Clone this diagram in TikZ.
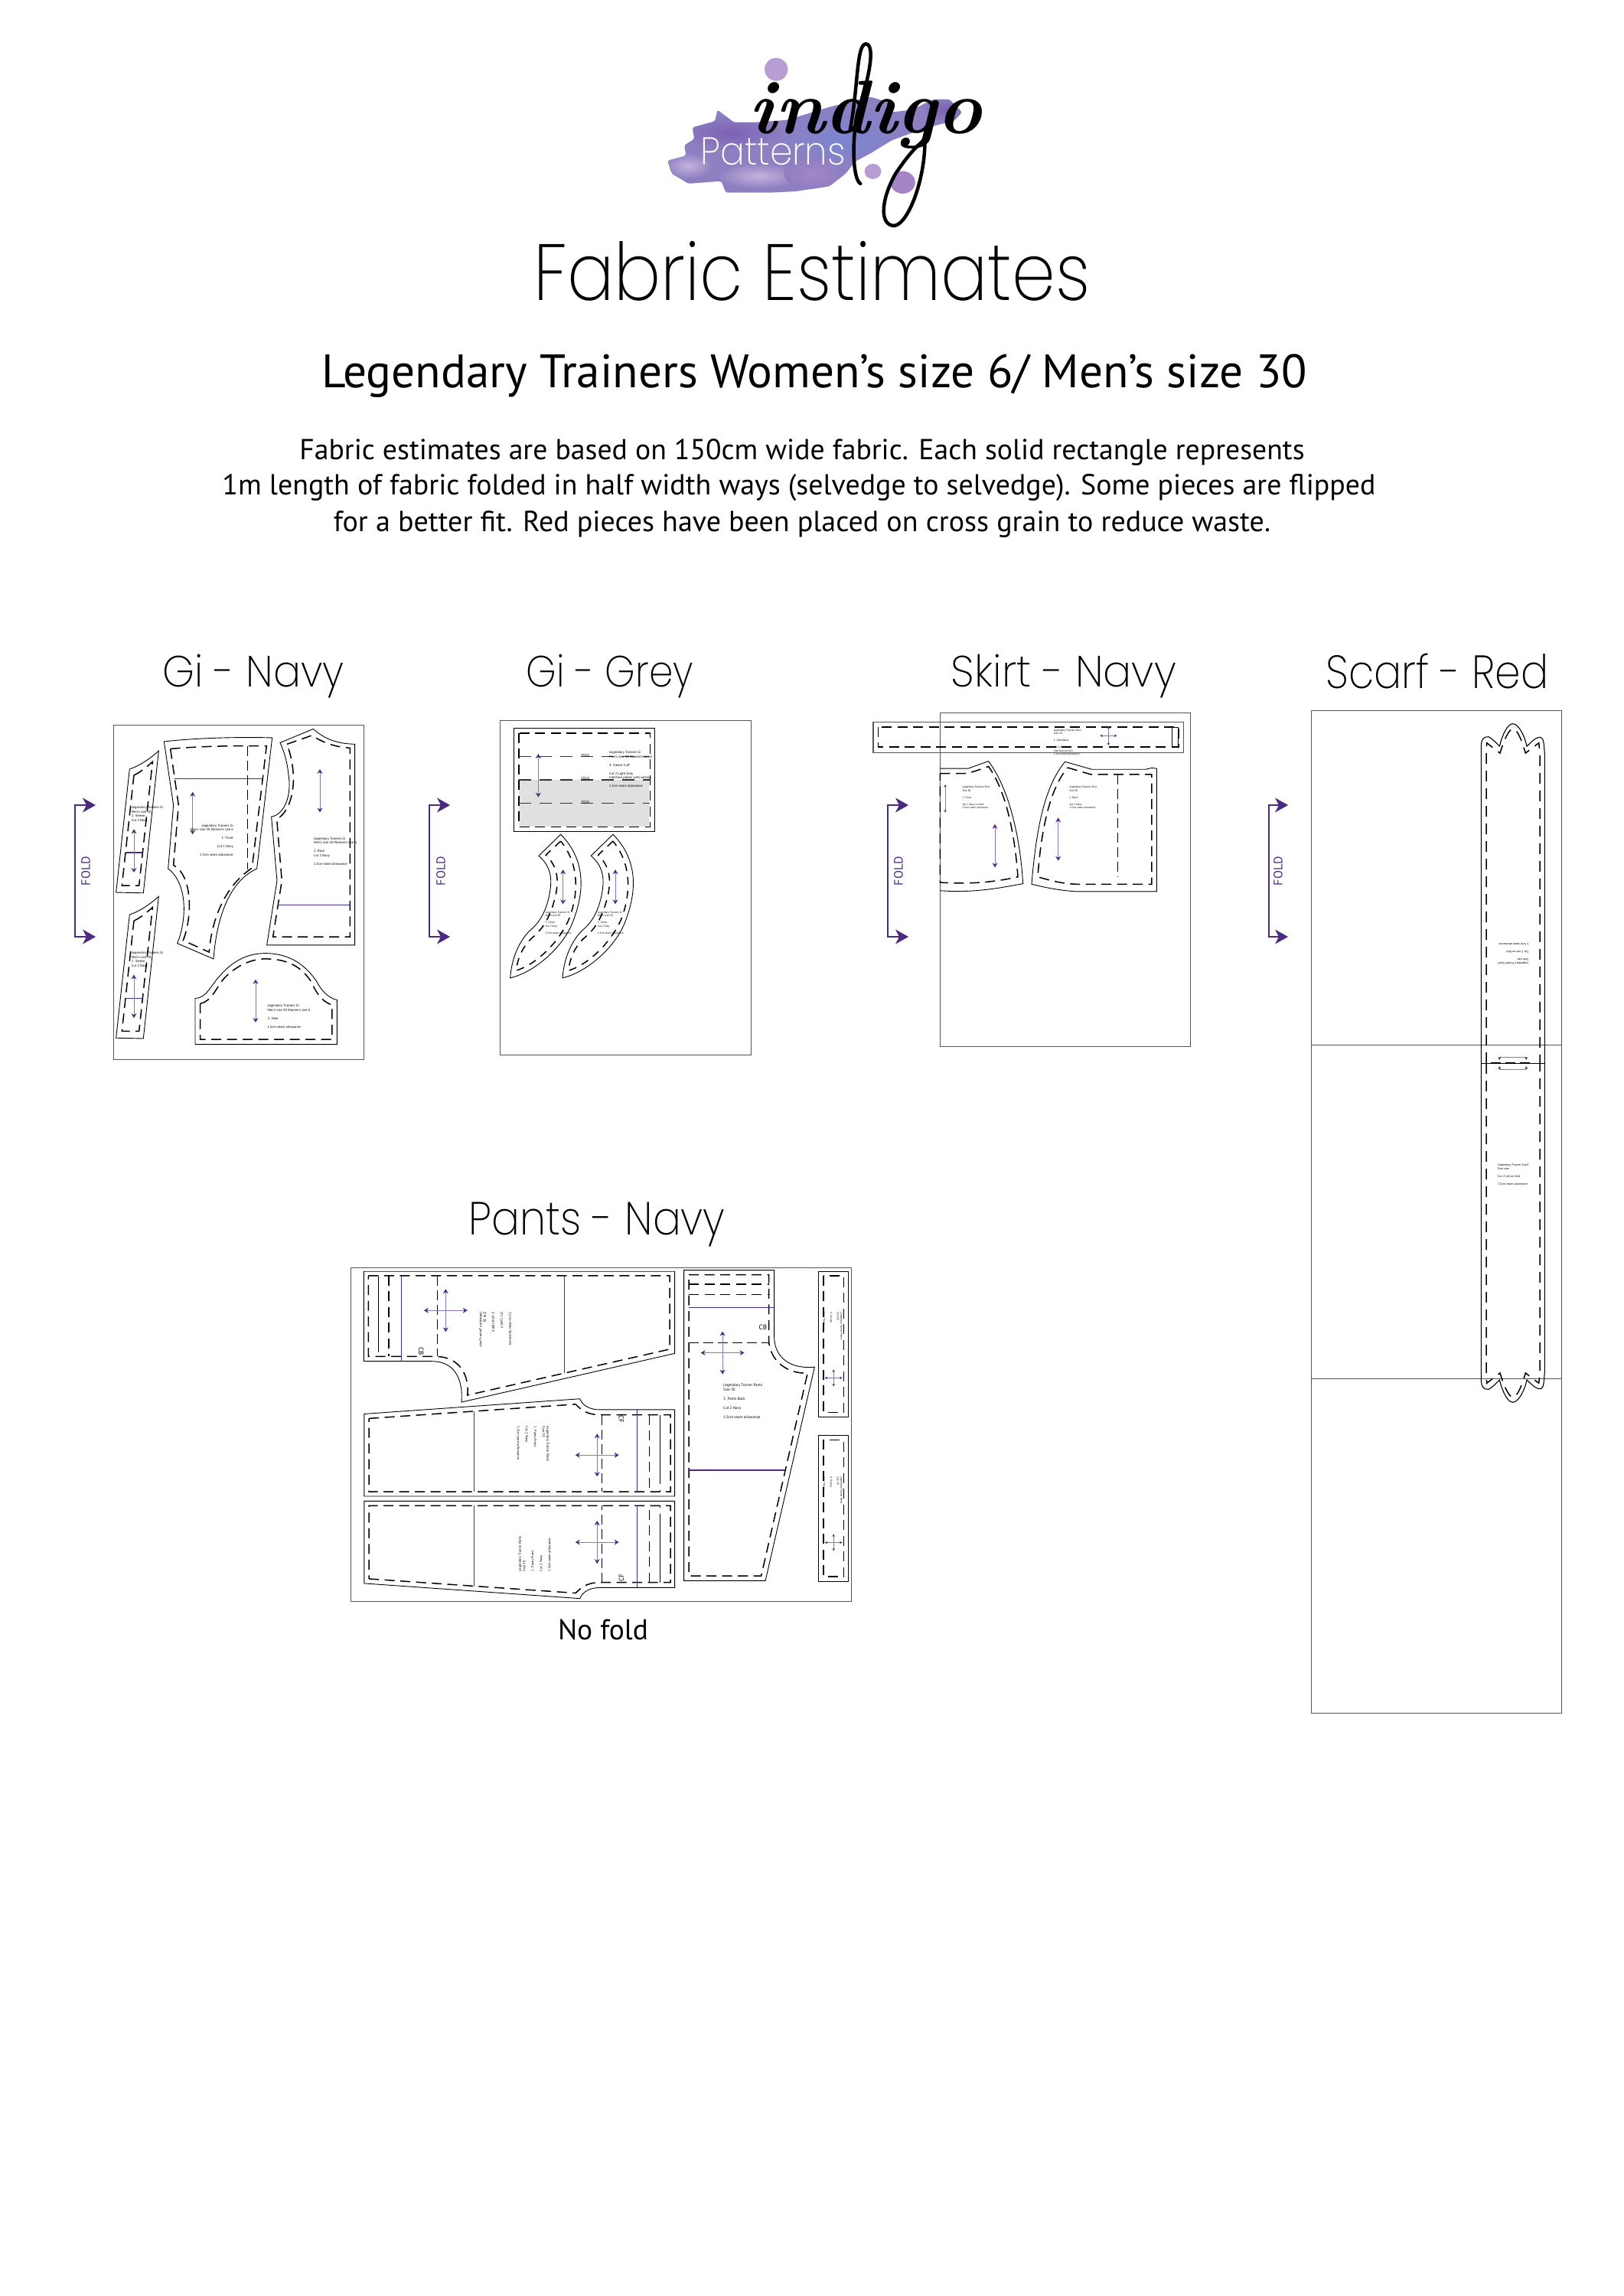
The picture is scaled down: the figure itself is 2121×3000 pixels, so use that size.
\documentclass[tikz,border=0pt]{standalone}
\usepackage{graphicx}
\usepackage{fontspec}
\usetikzlibrary{arrows.meta}
\newfontfamily\bodyfont{PT Sans}
\newfontfamily\thinfont{Poppins ExtraLight}
\definecolor{sheetgrey}{HTML}{555555}
\definecolor{foldpurple}{HTML}{4B2A82}
\definecolor{grainpurple}{HTML}{8A78B6}
\definecolor{blobbase}{HTML}{8D7FC2}
\definecolor{blobblue}{HTML}{7A86D0}
\definecolor{blobviolet}{HTML}{7C62B2}
\definecolor{bloblight}{HTML}{C6B2DC}
\definecolor{blobmauve}{HTML}{A585C6}
\tikzset{
	sheet/.style={draw=sheetgrey,line width=1pt},
	outline/.style={draw=black,line width=.9pt},
	stitch/.style={draw=black,line width=1.5pt,dash pattern=on 13pt off 7.5pt},
	thinstitch/.style={draw=black,line width=.7pt,dash pattern=on 13pt off 6pt},
	hemline/.style={draw=foldpurple,line width=1.1pt},
	grain/.style={draw=grainpurple,line width=.8pt,{Stealth[length=6pt,width=7pt,color=foldpurple]}-{Stealth[length=6pt,width=7pt,color=foldpurple]}},
	grainthin/.style={draw=grainpurple,line width=.5pt,{Stealth[length=3.5pt,width=3.5pt,color=foldpurple]}-{Stealth[length=3.5pt,width=3.5pt,color=foldpurple]}},
	foldarrow/.style={draw=foldpurple,line width=1.1pt,{Stealth[inset=5pt,length=17pt,width=19pt]}-{Stealth[inset=5pt,length=17pt,width=19pt]}},
	foldlabel/.style={text=foldpurple,font=\bodyfont,rotate=90,inner sep=0pt},
	heading/.style={font=\thinfont,inner sep=0pt},
	bodytext/.style={font=\bodyfont,inner sep=0pt},
	tinytext/.style={font=\bodyfont\fontsize{4.5}{5.5}\selectfont,align=left,inner sep=0pt,anchor=north west},
	giview/.style={shift={(80,830)},x=.3333pt,y=-.3827pt},
	greyview/.style={shift={(540,830)},x=.3333pt,y=-.3827pt},
	skirtview/.style={shift={(1130,830)},x=.3333pt,y=-.3827pt},
	pantsview/.style={shift={(440,1560)},x=.4591pt,y=-.3954pt},
	logoview/.style={shift={(650,30)},x=.542pt,y=-.3333pt},
}
\newcommand{\fitted}[3]{\resizebox*{#1pt}{#2pt}{#3}}
\newcommand{\fitwide}[2]{\resizebox{#1pt}{!}{#2}}
\newcommand{\blobpath}{(410,540) -- (455,520) -- (450,480) -- (475,455) -- (470,410) -- (525,385) -- (530,340) -- (570,390) -- (620,390) -- (700,380) -- (800,330) -- (900,290) -- (940,310) -- (950,350) -- (1000,340) -- (1050,300) -- (1090,300) -- (1120,350) -- (1100,385) -- (1060,400) -- (1000,430) -- (950,460) -- (900,510) -- (860,545) -- (840,590) -- (800,640) -- (720,660) -- (660,665) -- (550,665) -- (540,620) -- (460,630) -- (420,590) -- cycle}
\newcommand{\crossmark}[5][grain]{\draw[#1] (#2-#4,#3) -- (#2+#4,#3); \draw[#1] (#2,#3-#5) -- (#2,#3+#5);}
\begin{document}
\begin{tikzpicture}[x=1pt,y=-1pt]
\useasboundingbox (0,0) rectangle (2121,3000);

% logo
\begin{scope}[logoview]
	\begin{scope}
		\clip[rounded corners=3pt] \blobpath;
		\fill[blobbase] (400,280) rectangle (1130,680);
		\shade[inner color=blobblue,outer color=blobbase] (840,450) ellipse (170 and 130);
		\shade[inner color=blobviolet,outer color=blobbase] (560,430) ellipse (130 and 70);
		\shade[inner color=blobviolet,outer color=blobbase] (1080,340) ellipse (60 and 50);
		\shade[inner color=bloblight,outer color=blobbase] (630,600) ellipse (100 and 50);
		\shade[inner color=bloblight,outer color=blobbase] (460,560) ellipse (60 and 50);
		\shade[inner color=blobmauve,outer color=blobbase] (760,590) ellipse (70 and 60);
	\end{scope}
	\fill[blobmauve!80!white] (672,182) ellipse (28 and 45);
	\fill[blobmauve!80!white] (905,582) ellipse (20 and 30);
	\fill[blobmauve] (977,625) ellipse (30 and 44);
	\node[heading,text=white,anchor=north west] (patterns) at (490,450) {\fitted{189}{36}{Patterns}};
	\node[inner sep=0pt,anchor=base west] (indigo) at (605,435) {\fitwide{305}{\fontsize{110}{110}\selectfont\bfseries\itshape indigo}};
	\draw[line width=4.5pt,line cap=round] (850,420) .. controls (870,250) and (865,85) .. (888,82) .. controls (915,85) and (890,250) .. (868,350) .. controls (855,450) and (855,610) .. (875,630);
	\draw[line width=4.5pt,line cap=round] (1030,440) .. controls (1035,600) and (990,795) .. (955,795) .. controls (920,790) and (925,690) .. (960,590) .. controls (985,530) and (1005,490) .. (1028,460);
\end{scope}

% title and intro
\node[heading] (title) at (1061,354) {\fitted{727}{78}{Fabric Estimates}};
\node[bodytext] (subtitle) at (1064,491) {\fitwide{1287}{Legendary Trainers Women’s size 6/ Men’s size 30}};
\node[bodytext] (introa) at (1048,591) {\fitwide{1313}{Fabric estimates are based on 150cm wide fabric. Each solid rectangle represents}};
\node[bodytext] (introb) at (1044,637) {\fitwide{1507}{1m length of fabric folded in half width ways (selvedge to selvedge). Some pieces are flipped}};
\node[bodytext] (introc) at (1048,685) {\fitwide{1224}{for a better fit. Red pieces have been placed on cross grain to reduce waste.}};

% panel headings
\node[heading] (ginavy) at (331,883.5) {\fitted{237}{57}{Gi - Navy}};
\node[heading] (gigrey) at (797,883.5) {\fitted{218}{57}{Gi - Grey}};
\node[heading] (skirtnavy) at (1390,883.5) {\fitted{294}{57}{Skirt - Navy}};
\node[heading] (scarfred) at (1878,877) {\fitted{291}{46}{Scarf - Red}};
\node[heading] (pantsnavy) at (780,1600) {\fitted{335}{58}{Pants - Navy}};
\node[bodytext] (nofold) at (788,2129) {\fitwide{118}{No fold}};

% fold arrows
\foreach \foldx/\tipx/\labelx/\foldname in {98/125/112/a,561/588/576/b,1160/1187/1174/c,1658/1683/1670/d}{
	\draw[foldarrow] (\tipx,1052) -- (\foldx,1052) -- (\foldx,1224) -- (\tipx,1224);
	\node[foldlabel] (fold\foldname) at (\labelx,1138) {\fitwide{38}{FOLD}};
}

% gi navy
\begin{scope}[giview]
	\draw[sheet] (205,308) rectangle (1187,1448);
	\foreach \dy in {0,497}{
		\begin{scope}[yshift={\dy*-.3827pt}]
			\draw[outline] (268,457) .. controls (310,445) and (350,420) .. (382,395) -- (322,880) -- (215,878) -- cycle;
			\draw[stitch] (285,478) .. controls (310,468) and (335,450) .. (358,432) -- (305,855) -- (238,855) -- cycle;
			\draw[hemline] (253,742) -- (318,742);
			\draw[grain] (285,662) -- (285,810);
			\node[tinytext] (bandtext\dy) at (275,583) {Legendary Trainers Gi\\Men's size 30\\2. Sleeve\\Cut 2 Navy};
		\end{scope}
	}
	\draw[outline] (403,363) .. controls (540,350) and (700,347) .. (827,350) -- (767,797) .. controls (660,840) and (610,960) .. (597,1105) -- (455,1052) .. controls (490,980) and (500,850) .. (419,797) -- (440,580) -- cycle;
	\draw[stitch] (428,388) .. controls (550,378) and (700,377) .. (805,378) -- (748,795) .. controls (650,850) and (590,960) .. (580,1082) -- (478,1042) .. controls (515,960) and (515,820) .. (440,785) -- (460,580) -- cycle;
	\draw[thinstitch] (730,378) -- (730,800);
	\draw[hemline] (445,491) -- (787,491);
	\draw[grain] (515,535) -- (515,680);
	\node[tinytext,align=right,anchor=north east] (fronttext) at (675,645) {Legendary Trainers Gi\\Men's size 30 Women's size 6\\\\1. Front\\\\Cut 1 Navy\\\\1.5cm seam allowance};
	\draw[outline] (858,367) -- (988,320) .. controls (1040,360) and (1090,370) .. (1151,372) -- (1151,1058) -- (806,1058) -- (846,838) -- (824,620) .. controls (880,610) and (905,540) .. (890,470) .. controls (885,425) and (870,390) .. (858,367) -- cycle;
	\draw[stitch] (885,372) -- (983,342) .. controls (1040,375) and (1090,382) .. (1132,385) -- (1132,1030) -- (830,1030) -- (865,838) -- (845,628) .. controls (905,600) and (935,490) .. (885,372) -- cycle;
	\draw[hemline] (850,921) -- (1132,921);
	\draw[grain] (1014,457) -- (1014,605);
	\node[tinytext] (backtext) at (990,690) {Legendary Trainers Gi\\Men's size 30 Women's size 6\\\\2. Back\\Cut 1 Navy\\\\1.5cm seam allowance};
	\draw[outline] (525,1240) .. controls (570,1240) and (590,1190) .. (625,1160) .. controls (680,1105) and (740,1086) .. (800,1086) .. controls (900,1086) and (960,1130) .. (1000,1180) .. controls (1020,1215) and (1050,1240) .. (1081,1245) -- (1081,1397) -- (525,1397) -- cycle;
	\draw[stitch] (545,1258) .. controls (590,1250) and (610,1200) .. (640,1170) .. controls (690,1125) and (750,1105) .. (800,1105) .. controls (900,1105) and (950,1140) .. (985,1190) .. controls (1000,1225) and (1030,1255) .. (1062,1262) -- (1062,1380) -- (545,1380) -- cycle;
	\draw[grain] (762,1175) -- (762,1322);
	\node[tinytext] (yoketext) at (808,1260) {Legendary Trainers Gi\\Men's size 30 Women's size 6\\\\3. Yoke\\\\1.5cm seam allowance};
\end{scope}

% gi grey
\begin{scope}[greyview]
	\draw[sheet] (340,292) rectangle (1324,1432);
	\fill[black!12] (414,494) rectangle (925,652);
	\draw[outline] (393,318) rectangle (946,670);
	\draw[stitch] (414,334) rectangle (928,654);
	\foreach \foldy in {414,494,574}{
		\draw[stitch,black!80,line width=1.3pt,dash pattern=on 16pt off 11pt] (414,\foldy) -- (928,\foldy);
		\node[tinytext,anchor=south] (cufffold\foldy) at (675,\foldy) {FOLD};
	}
	\draw[grain] (490,405) -- (490,553);
	\node[tinytext] (cufftext) at (768,395) {Legendary Trainers Gi\\Men's size 30 Women's size 6\\\\4. Sleeve Cuff\\\\Cut 2 Light Grey\\Interface pieces with section\\\\1.5cm seam allowance};
	\foreach \dx in {0,205}{
		\begin{scope}[xshift={\dx*.3333pt}]
			\draw[outline] (578,680) -- (492,753) .. controls (540,790) and (545,830) .. (535,880) .. controls (520,950) and (490,985) .. (455,1010) .. controls (410,1050) and (385,1110) .. (380,1170) .. controls (480,1150) and (590,1060) .. (625,980) .. controls (670,880) and (680,770) .. (578,680) -- cycle;
			\draw[stitch,line width=1.5pt,dash pattern=on 10pt off 8pt] (578,703) -- (520,750) .. controls (565,790) and (570,830) .. (560,880) .. controls (540,960) and (510,1000) .. (470,1030) .. controls (430,1060) and (410,1100) .. (403,1145) .. controls (480,1125) and (570,1050) .. (610,970) .. controls (650,880) and (650,780) .. (578,703) -- cycle;
			\draw[grain] (587,800) -- (587,918);
			\node[tinytext,font=\bodyfont\fontsize{3.5}{4.5}\selectfont] (collartext\dx) at (517,942) {Legendary Trainers Gi\\Men's size 30\\\\5. Collar\\Cut 2 Grey\\\\1.5cm seam allowance};
		\end{scope}
	}
\end{scope}

% skirt navy
\begin{scope}[skirtview]
	\draw[sheet] (295,265) rectangle (1277,1405);
	\draw[outline,draw=sheetgrey,line width=1.1pt] (33,296) rectangle (1250,400);
	\draw[stitch] (52,313) rectangle (1230,382);
	\draw[outline] (1203,314) rectangle (1229,382);
	\crossmark[grainthin]{955}{343}{33}{33}
	\node[tinytext,font=\bodyfont\fontsize{3.5}{4.5}\selectfont] (waisttext) at (740,320) {Legendary Trainers Skirt\\Size 30\\\\1. Waistband\\\\Cut 1 Navy\\Interface section\\1.5cm seam allowance};
	\draw[outline] (295,455) -- (405,455) .. controls (430,447) and (460,438) .. (485,430) .. controls (570,530) and (610,700) .. (620,848) .. controls (520,865) and (420,880) .. (295,872);
	\draw[stitch] (295,472) -- (400,472) .. controls (430,465) and (460,456) .. (485,448) .. controls (560,540) and (590,700) .. (600,825) .. controls (500,845) and (400,850) .. (295,844) -- cycle;
	\draw[outline] (785,432) -- (890,458) -- (1100,458) -- (1125,453) -- (1144,455) -- (1144,875) -- (830,875) .. controls (770,872) and (710,862) .. (654,850) .. controls (670,680) and (700,520) .. (785,432) -- cycle;
	\draw[stitch] (795,452) -- (885,475) -- (1125,475) -- (1125,850) -- (840,850) .. controls (780,850) and (730,838) .. (678,825) .. controls (690,680) and (720,530) .. (795,452) -- cycle;
	\draw[thinstitch,line width=1pt] (992,475) -- (992,825);
	\draw[grainthin] (315,510) -- (315,605);
	\draw[grain] (510,645) -- (510,793);
	\draw[grain] (758,623) -- (758,770);
	\node[tinytext,font=\bodyfont\fontsize{3.5}{4.5}\selectfont] (skirtfronttext) at (382,515) {Legendary Trainers Skirt\\Size 30\\\\1. Front\\\\Cut 1 Navy on fold\\1.5cm seam allowance};
	\node[tinytext,font=\bodyfont\fontsize{3.5}{4.5}\selectfont] (skirtbacktext) at (802,515) {Legendary Trainers Skirt\\Size 30\\\\2. Back\\\\Cut 2 Navy\\1.5cm seam allowance};
\end{scope}

% scarf red
\draw[sheet] (1713,928) rectangle (2040,2238);
\draw[sheet] (1713,1365) -- (2040,1365);
\draw[sheet] (1713,1801) -- (2040,1801);
\foreach \ys in {1,-1}{
	\begin{scope}[shift={(1900,1389)},x=.3333pt,y=\ys*.3333pt]
		\draw[outline,line width=1.1pt] (106,0) -- (106,1237) .. controls (106,1270) and (115,1280) .. (135,1279) .. controls (150,1272) and (170,1250) .. (178,1242) .. controls (190,1290) and (210,1330) .. (230,1330) .. controls (250,1330) and (275,1290) .. (285,1242) .. controls (300,1255) and (320,1280) .. (340,1277) .. controls (352,1272) and (352,1250) .. (355,1210) -- (355,0);
		\draw[stitch,dash pattern=on 14pt off 9pt] (126,0) -- (126,1220) -- (128,1255) -- (180,1215) .. controls (195,1265) and (215,1310) .. (230,1310) .. controls (248,1310) and (265,1265) .. (280,1215) -- (332,1255) -- (336,1220) -- (336,0);
		\draw[grainthin,{Stealth[length=4pt,width=4pt,color=foldpurple]}-] (178,12) -- (178,24) -- (283,24);
		\draw[grainthin,{Stealth[length=4pt,width=4pt,color=foldpurple]}-] (283,12) -- (283,24);
	\end{scope}
}
\draw[outline] (1935,1389) -- (2018,1389);
\draw[thinstitch,line width=1.3pt] (1948,1389) -- (2003,1389);
\node[tinytext,font=\bodyfont\fontsize{4}{5}\selectfont,rotate=180,anchor=south east] (scarftexta) at (1957,1232) {Legendary Trainer Scarf\\Size size\\\\Cut 2 red on fold\\\\1.5cm seam allowance};
\node[tinytext,font=\bodyfont\fontsize{4}{5}\selectfont] (scarftextb) at (1957,1520) {Legendary Trainer Scarf\\Size size\\\\Cut 2 red on fold\\\\1.5cm seam allowance};

% pants navy
\begin{scope}[pantsview]
	\draw[sheet] (40,243) rectangle (1465,1346);
	\draw[outline] (77,256) -- (962,256) -- (962,527) -- (355,688) .. controls (360,620) and (340,553) .. (270,553) -- (77,553) -- cycle;
	\draw[stitch] (90,270) -- (948,270) -- (948,513) -- (372,665) .. controls (378,600) and (350,537) .. (280,537) -- (90,537) -- cycle;
	\draw[stitch] (148,270) -- (148,537);
	\draw[thinstitch,dash pattern=on 100pt off 8pt] (118,270) -- (118,530);
	\draw[thinstitch] (285,270) -- (285,537);
	\draw[hemline] (185,270) -- (185,553);
	\draw[hemline] (648,270) -- (648,592);
	\crossmark{310}{385}{62}{71}
	\node[tinytext,rotate=-90,yscale=-1,anchor=north west] (backtexta) at (405,390) {Legendary Trainer Pants\\Size 30\\\\3. Pants Back\\\\Cut 2 Navy\\\\1.5cm seam allowance};
	\node[inner sep=0pt,font=\bodyfont\fontsize{9}{9}\selectfont,rotate=-90] (cba) at (240,520) {CB};
	\foreach \mshift/\msign/\textrot in {0/-1/-90,2014/1/90}{
		\begin{scope}[shift={(0,\mshift)},y=\msign*.3954pt]
			\draw[outline] (78,727) -- (692,677) .. controls (700,700) and (720,713) .. (750,713) -- (962,713) -- (962,999) -- (78,999) -- cycle;
			\draw[stitch] (92,742) -- (680,695) .. controls (700,720) and (720,730) .. (750,730) -- (950,730) -- (950,984) -- (92,984) -- cycle;
			\draw[hemline] (391,717) -- (391,984);
			\draw[hemline] (855,713) -- (855,984);
			\draw[thinstitch] (755,730) -- (755,984);
			\draw[stitch] (890,730) -- (890,984);
			\draw[thinstitch,dash pattern=on 90pt off 8pt] (920,730) -- (920,984);
			\crossmark{741}{863}{62}{71}
			\node[inner sep=0pt,font=\bodyfont\fontsize{9}{9}\selectfont,rotate=\textrot] (cf\mshift) at (810,745) {CF};
		\end{scope}
	}
	\node[tinytext,rotate=-90,anchor=north west] (fronttexta) at (605,768) {Legendary Trainer Pants\\Size 30\\\\1. Pants Front\\\\Cut 2 Navy\\\\1.5cm seam allowance};
	\node[tinytext,rotate=90,anchor=north west] (fronttextb) at (517,1248) {Legendary Trainer Pants\\Size 30\\\\1. Pants Front\\\\Cut 2 Navy\\\\1.5cm seam allowance};
	\draw[outline] (988,252) -- (1245,252) -- (1245,470) .. controls (1245,540) and (1290,580) .. (1360,572) -- (1220,1278) -- (988,1278) -- cycle;
	\draw[stitch] (1002,267) -- (1230,267) -- (1230,490) .. controls (1235,550) and (1280,595) .. (1340,592) -- (1208,1262) -- (1002,1262) -- cycle;
	\draw[stitch] (1002,298) -- (1230,298);
	\draw[stitch] (1002,333) -- (1230,333);
	\draw[thinstitch] (1002,491) -- (1230,491);
	\draw[hemline] (1002,376) -- (1245,376);
	\draw[hemline] (1002,913) -- (1277,913);
	\crossmark{1098}{525}{62}{71}
	\node[inner sep=0pt,font=\bodyfont\fontsize{9}{9}\selectfont] (cbb) at (1213,440) {CB};
	\node[tinytext,font=\bodyfont\fontsize{5}{6}\selectfont] (backtextb) at (1100,627) {Legendary Trainer Pants\\Size 30\\\\3. Pants Back\\\\Cut 2 Navy\\\\1.5cm seam allowance};
	\foreach \pockety/\crossy in {256/608,799/1152}{
		\draw[outline] (1371,\pockety) rectangle (1456,\pockety+482);
		\draw[stitch] (1385,\pockety+14) rectangle (1443,\pockety+466);
		\crossmark[grainthin]{1414}{\crossy}{25}{28}
		\node[tinytext,rotate=-90,anchor=north west,font=\bodyfont\fontsize{3.5}{4.5}\selectfont] (pockettext\pockety) at (1440,\pockety+135) {Legendary Trainer Pants\\Size 30\\\\4. Pocket\\\\Cut 2 Navy};
	}
\end{scope}
\end{tikzpicture}
\end{document}
